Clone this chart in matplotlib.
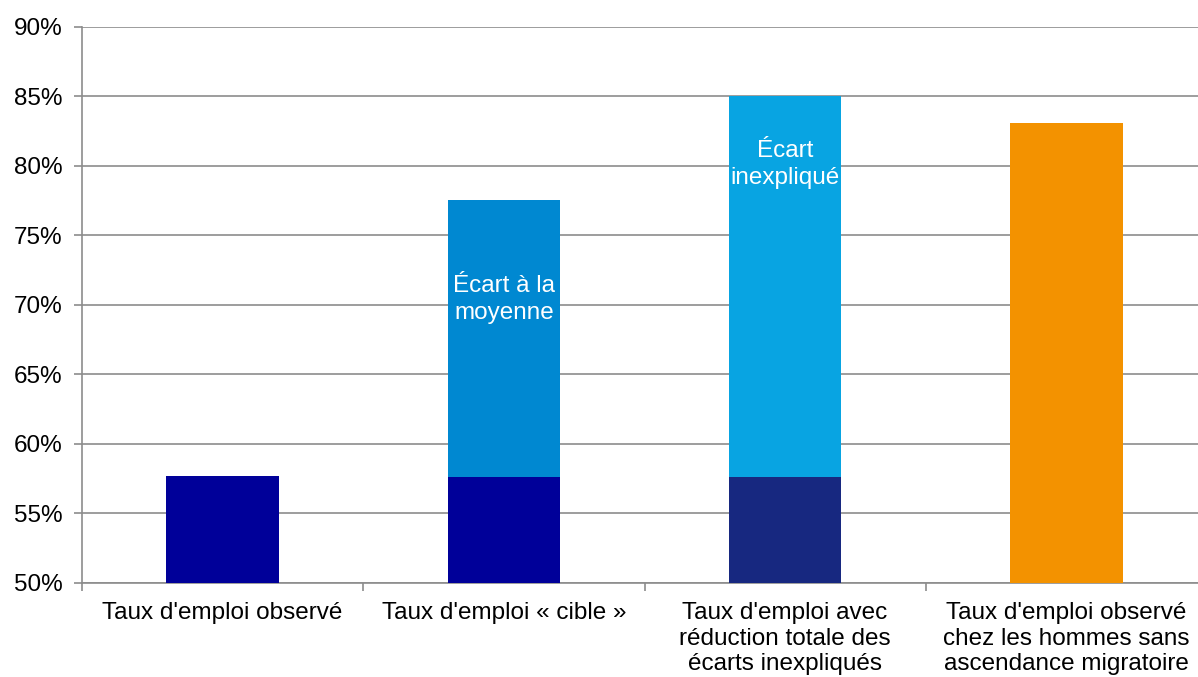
import matplotlib
matplotlib.use("Agg")
import matplotlib.pyplot as plt
import numpy as np

plt.rcParams['font.family'] = ['Liberation Sans', 'DejaVu Sans']

categories = ["Taux d'emploi observé", "Taux d'emploi « cible »",
              "Taux d'emploi avec\nréduction totale des\nécarts inexpliqués",
              "Taux d'emploi observé\nchez les hommes sans\nascendance migratoire"]
base_values = [57.7, 57.6, 57.6, 83.1]
top_values = [0.0, 77.55, 85.0, 0.0]
base_colors = ['#000099', '#000099', '#172880', '#F39200']
top_colors = [None, '#0088D1', '#08A4E2', None]
inner_labels = [None, "Écart à la\nmoyenne", "Écart\ninexpliqué", None]
inner_label_y = [None, 70.4, 80.1, None]
yticks = [50, 55, 60, 65, 70, 75, 80, 85, 90]

FS = 17.5
fig = plt.figure(figsize=(11.98, 6.77), dpi=100)
ax = fig.add_axes([82/1198, 1-583/677, (1207-82)/1198, (583-27)/677])

x = np.arange(len(categories))
w = 0.40
ymin = 50
for i in range(len(categories)):
    ax.bar(x[i], base_values[i]-ymin, bottom=ymin, width=w, color=base_colors[i], zorder=3)
    if top_values[i] > 0:
        ax.bar(x[i], top_values[i]-base_values[i], bottom=base_values[i], width=w,
               color=top_colors[i], zorder=3)
    if inner_labels[i]:
        ax.text(x[i], inner_label_y[i], inner_labels[i], ha='center', va='center',
                color='white', fontsize=FS, linespacing=1.3, zorder=4)

ax.set_xlim(-0.5, len(categories)-0.5)
ax.set_ylim(50, 90)
ax.set_yticks(yticks)
ax.set_yticklabels([f"{v}%" for v in yticks], fontsize=FS)
ax.yaxis.grid(True, color='#8c8c8c', linewidth=1.2, zorder=0)
ax.set_axisbelow(True)

ax.set_xticks(x)
ax.set_xticklabels(categories, fontsize=FS, linespacing=1.2, va='top')
ax.tick_params(axis='x', length=0, pad=14)
ax.set_xticks(np.arange(-0.5, len(categories), 1.0), minor=True)
ax.tick_params(axis='x', which='minor', length=6, color='#8c8c8c', width=1.2)
ax.tick_params(axis='y', length=6, color='#8c8c8c', width=1.2, pad=8)

for s in ['top', 'right']:
    ax.spines[s].set_visible(False)
for s in ['left', 'bottom']:
    ax.spines[s].set_color('#8c8c8c')
    ax.spines[s].set_linewidth(1.2)

fig.savefig('out.png', dpi=100)
